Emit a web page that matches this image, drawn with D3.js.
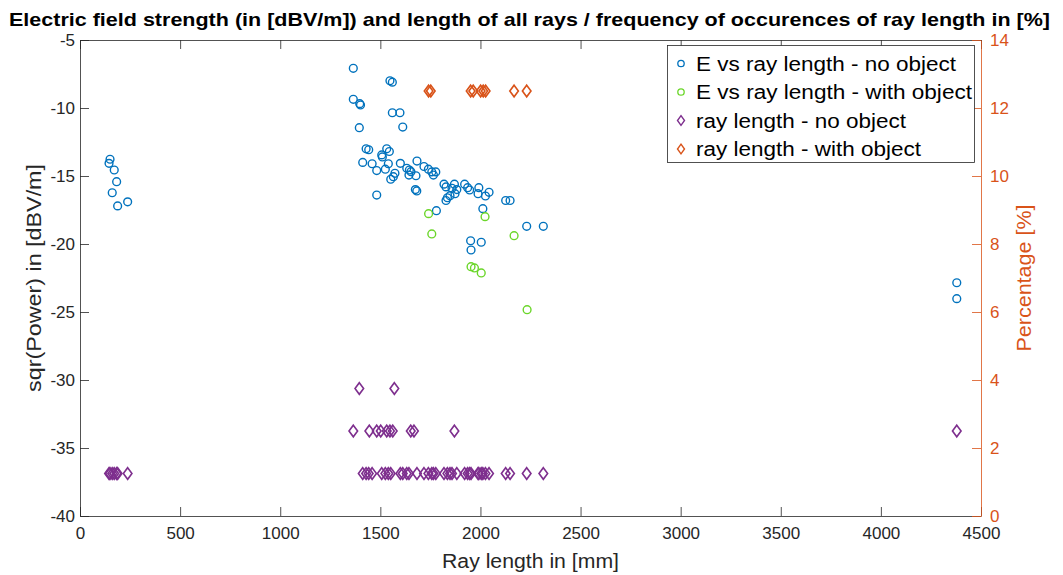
<!DOCTYPE html>
<html><head><meta charset="utf-8">
<script src="https://cdn.jsdelivr.net/npm/d3@7"></script>
<style>body{margin:0;background:#fff;} svg{display:block;font-family:"Liberation Sans",Arial,sans-serif;}</style>
</head><body>
<svg id="chart" width="1063" height="575"></svg>
<script>
// E vs ray length - no object: [ray length mm, dBV/m]
const noObjLength = [145,150,161,171,183,188,238,
  1365,1548,1560,1365,1397,1401,1560,1598,1395,1612,1429,1442,1532,1545,1507,1510,
  1412,1459,1482,1525,1540,1600,1683,1573,1565,1552,1632,1645,1653,1643,1678,
  1718,1740,1757,1765,1777,1675,1682,1482,1818,1828,1870,1858,1882,1873,1848,1835,1828,
  1921,1936,1946,1992,1988,2025,2043,2126,2148,2012,1780,2231,2314,1951,1953,2004,
  4379,4379];
const noObjE = [-14.07,-13.77,-16.23,-14.56,-15.42,-17.2,-16.9,
  -7.08,-8.0,-8.1,-9.36,-9.68,-9.78,-10.35,-10.35,-11.45,-11.4,-13.0,-13.07,-13.0,-13.2,-13.45,-13.6,
  -14.0,-14.1,-14.6,-14.5,-14.1,-14.07,-13.9,-14.8,-15.05,-15.24,-14.43,-14.56,-14.68,-14.93,-14.98,
  -14.3,-14.5,-14.7,-14.93,-14.7,-16.0,-16.1,-16.4,-15.6,-15.8,-15.6,-15.9,-16.0,-16.3,-16.45,-16.6,-16.8,
  -15.6,-15.86,-16.03,-15.86,-16.3,-16.47,-16.2,-16.8,-16.8,-17.4,-17.55,-18.7,-18.7,-19.76,-20.44,-19.87,
  -22.85,-24.02];

// E vs ray length - with object
const withObjLength = [1741,1757,1953,1970,2004,2023,2168,2233];
const withObjE = [-17.77,-19.26,-21.67,-21.76,-22.13,-17.99,-19.39,-24.83];

// ray length - no object: [ray length mm, percentage %]
const rayNoObjLength = [145,150,161,171,183,188,238,
  1412,1429,1442,1459,1507,1525,1540,1552,1600,1612,1632,1643,1683,1718,1740,1757,1765,1777,
  1818,1835,1848,1858,1882,1921,1936,1946,1953,1988,1992,2004,2012,2025,2043,2126,2148,2231,2314,
  1365,1445,1482,1502,1532,1548,1562,1652,1668,1870,4379,
  1395,1570];
const rayNoObjPct = [1.25,1.25,1.25,1.25,1.25,1.25,1.25,
  1.25,1.25,1.25,1.25,1.25,1.25,1.25,1.25,1.25,1.25,1.25,1.25,1.25,1.25,1.25,1.25,1.25,1.25,
  1.25,1.25,1.25,1.25,1.25,1.25,1.25,1.25,1.25,1.25,1.25,1.25,1.25,1.25,1.25,1.25,1.25,1.25,1.25,
  2.5,2.5,2.5,2.5,2.5,2.5,2.5,2.5,2.5,2.5,2.5,
  3.75,3.75];

// ray length - with object
const rayWithObjLength = [1741,1752,1951,1964,2001,2014,2026,2168,2231];
const rayWithObjPct = [12.5,12.5,12.5,12.5,12.5,12.5,12.5,12.5,12.5];

const xTicks = [0,500,1000,1500,2000,2500,3000,3500,4000,4500];
const yLeftTicks = [-40,-35,-30,-25,-20,-15,-10,-5];
const yRightTicks = [0,2,4,6,8,10,12,14];

const legendLabels = ["E vs ray length - no object","E vs ray length - with object","ray length - no object","ray length - with object"];

const C_BLUE = "#0072BD", C_GREEN = "#6BD62A", C_PURPLE = "#7E2F8E", C_ORANGE = "#D95319", C_AX = "#262626";

const svg = d3.select("#chart");
const L = 80, R = 981, T = 40, B = 516;
const x = d3.scaleLinear().domain([0,4500]).range([L,R]);
const yL = d3.scaleLinear().domain([-40,-5]).range([B,T]);
const yR = d3.scaleLinear().domain([0,14]).range([B,T]);
const fmt = d => String(d); // plain hyphen minus, no thousands separator

// axes
const tickLen = 9;
const gB = svg.append("g").attr("transform",`translate(0,${B})`)
  .call(d3.axisBottom(x).tickValues(xTicks).tickFormat(fmt).tickSizeInner(-tickLen).tickSizeOuter(0).tickPadding(11));
const gT = svg.append("g").attr("transform",`translate(0,${T})`)
  .call(d3.axisTop(x).tickValues(xTicks).tickSizeInner(-tickLen).tickSizeOuter(0).tickFormat(""));
const gL = svg.append("g").attr("transform",`translate(${L},0)`)
  .call(d3.axisLeft(yL).tickValues(yLeftTicks).tickFormat(fmt).tickSizeInner(-tickLen).tickSizeOuter(0).tickPadding(5));
const gR = svg.append("g").attr("transform",`translate(${R},0)`)
  .call(d3.axisRight(yR).tickValues(yRightTicks).tickFormat(fmt).tickSizeInner(-tickLen).tickSizeOuter(0).tickPadding(9));
[gB,gT,gL].forEach(g=>{
  g.selectAll("path,line").attr("stroke",C_AX).attr("stroke-width",0.8);
  g.selectAll("text").attr("fill",C_AX).style("font-size","17px").style("font-family","Liberation Sans, Arial, sans-serif");
});
gR.selectAll("path,line").attr("stroke",C_ORANGE).attr("stroke-width",0.8);
gR.selectAll("text").attr("fill",C_ORANGE).style("font-size","17px").style("font-family","Liberation Sans, Arial, sans-serif");
gB.selectAll("text").attr("dy","0.71em");

// marks
const plot = svg.append("g");
function circles(xs, ys, scaleY, color){
  plot.append("g").selectAll("circle").data(xs.map((d,i)=>[d,ys[i]])).join("circle")
    .attr("cx",d=>x(d[0])).attr("cy",d=>scaleY(d[1])).attr("r",3.9)
    .attr("fill","none").attr("stroke",color).attr("stroke-width",1.4);
}
function diamondPath(cx,cy){ const w=4.3,h=5.8; return `M${cx},${cy-h}L${cx+w},${cy}L${cx},${cy+h}L${cx-w},${cy}Z`; }
function diamonds(xs, ys, scaleY, color){
  plot.append("g").selectAll("path").data(xs.map((d,i)=>[d,ys[i]])).join("path")
    .attr("d",d=>diamondPath(x(d[0]),scaleY(d[1])))
    .attr("fill","none").attr("stroke",color).attr("stroke-width",1.6);
}
circles(noObjLength, noObjE, yL, C_BLUE);
circles(withObjLength, withObjE, yL, C_GREEN);
diamonds(rayNoObjLength, rayNoObjPct, yR, C_PURPLE);
diamonds(rayWithObjLength, rayWithObjPct, yR, C_ORANGE);

// legend
const lg = svg.append("g");
lg.append("rect").attr("x",667.5).attr("y",45.5).attr("width",307).attr("height",117)
  .attr("fill","#fff").attr("stroke",C_AX).attr("stroke-width",0.8);
const legColors = [C_BLUE,C_GREEN,C_PURPLE,C_ORANGE];
const legWidths = [260,276,210,225];
legendLabels.forEach((t,i)=>{
  const yy = 63.5 + i*28.5;
  if(i<2){
    lg.append("circle").attr("cx",681).attr("cy",yy).attr("r",3.2).attr("fill","none").attr("stroke",legColors[i]).attr("stroke-width",1.3);
  } else {
    lg.append("path").attr("d",`M681,${yy-4.8}L684.5,${yy}L681,${yy+4.8}L677.5,${yy}Z`).attr("fill","none").attr("stroke",legColors[i]).attr("stroke-width",1.4);
  }
  lg.append("text").attr("x",696).attr("y",yy).attr("dy","0.35em").attr("fill","#000")
    .style("font-size","20px").attr("textLength",legWidths[i]).attr("lengthAdjust","spacingAndGlyphs").text(t);
});

// titles
svg.append("text").attr("x",9).attr("y",26).attr("font-weight","bold").style("font-size","19px")
  .attr("textLength",1041).attr("lengthAdjust","spacingAndGlyphs").attr("fill","#000")
  .text("Electric field strength (in [dBV/m]) and length of all rays / frequency of occurences of ray length in [%]");
svg.append("text").attr("x",(L+R)/2).attr("y",568).attr("text-anchor","middle").style("font-size","20px").attr("fill",C_AX)
  .attr("textLength",177).attr("lengthAdjust","spacingAndGlyphs")
  .text("Ray length in [mm]");
svg.append("text").attr("transform",`translate(41,${(T+B)/2}) rotate(-90)`).attr("text-anchor","middle").style("font-size","20px").attr("fill",C_AX)
  .attr("textLength",228).attr("lengthAdjust","spacingAndGlyphs")
  .text("sqr(Power) in [dBV/m]");
svg.append("text").attr("transform",`translate(1031,${(T+B)/2}) rotate(-90)`).attr("text-anchor","middle").style("font-size","20px").attr("fill",C_ORANGE)
  .attr("textLength",147).attr("lengthAdjust","spacingAndGlyphs")
  .text("Percentage [%]");
</script>
</body></html>
